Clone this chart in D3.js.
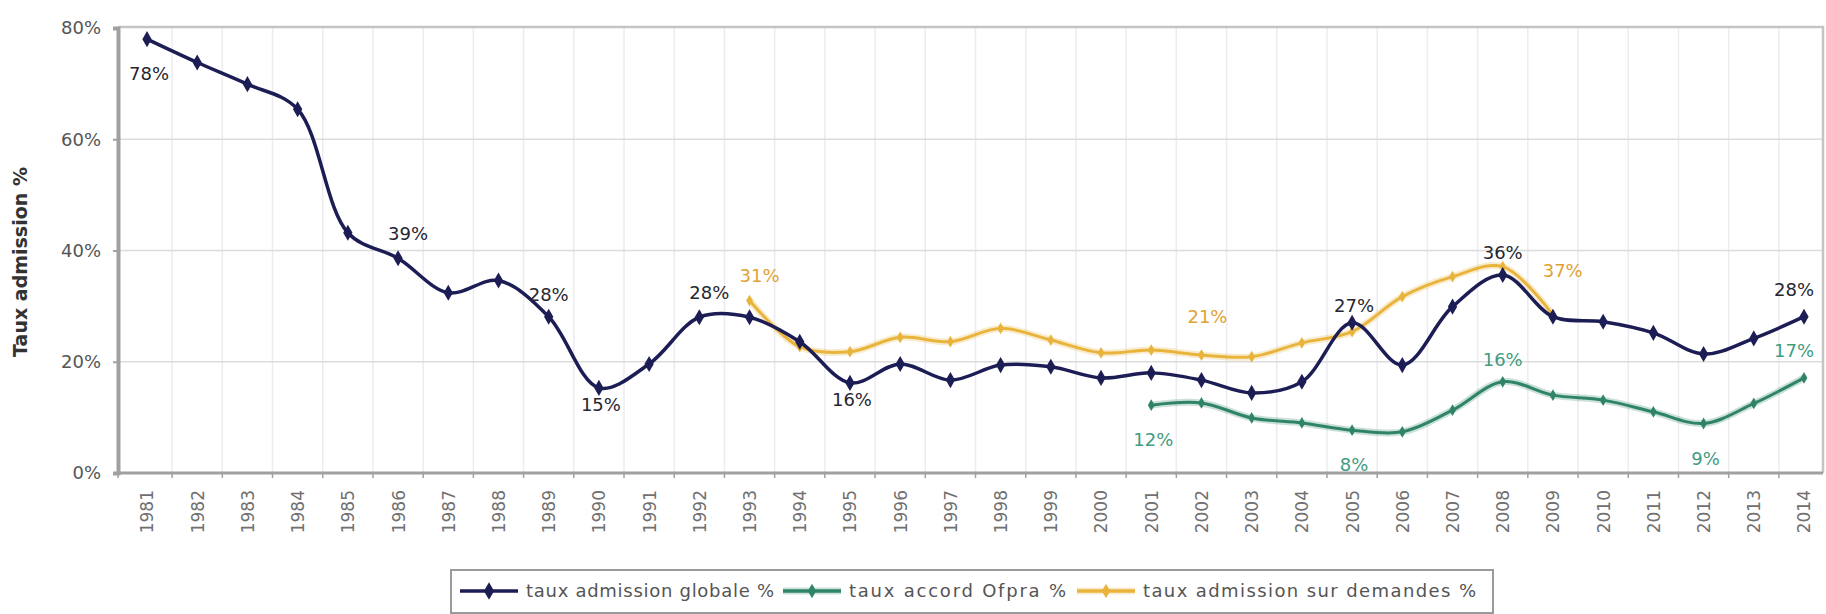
<!DOCTYPE html>
<html><head><meta charset="utf-8">
<script src="https://cdn.jsdelivr.net/npm/d3@7"></script>
<style>
body{margin:0;background:#fff}
svg{display:block}
text{font-family:"DejaVu Sans",Verdana,sans-serif}
</style>
</head><body>
<svg id="chart" width="1826" height="614"></svg>
<script>
// ---------- data ----------
const years = ["1981","1982","1983","1984","1985","1986","1987","1988","1989","1990",
  "1991","1992","1993","1994","1995","1996","1997","1998","1999","2000",
  "2001","2002","2003","2004","2005","2006","2007","2008","2009","2010",
  "2011","2012","2013","2014"];
const yTicks = [0, 20, 40, 60, 80];
const seriesNames = ["taux admission globale %", "taux accord Ofpra %", "taux admission sur demandes %"];
const globalRate = [78, 73.8, 69.9, 65.4, 43.2, 38.6, 32.4, 34.6, 28.1, 15.3,
  19.6, 28.0, 28.0, 23.6, 16.2, 19.6, 16.7, 19.4, 19.1, 17.1,
  18.0, 16.7, 14.4, 16.4, 27.0, 19.4, 29.9, 35.6, 28.1, 27.2,
  25.2, 21.4, 24.2, 28.1];
const ofpraRate = [null, null, null, null, null, null, null, null, null, null,
  null, null, null, null, null, null, null, null, null, null,
  12.2, 12.6, 9.9, 9.0, 7.7, 7.4, 11.3, 16.4, 14.0, 13.1,
  11.0, 8.9, 12.5, 17.1];
const demandRate = [null, null, null, null, null, null, null, null, null, null,
  null, null, 31.0, 22.7, 21.8, 24.4, 23.6, 26.0, 23.9, 21.6,
  22.1, 21.2, 20.9, 23.4, 25.4, 31.7, 35.3, 37.1, 28.4, null,
  null, null, null, null];
// data labels: [year, text, placement]
const globalLabels = [["1981","78%","belowFar"],["1986","39%","aboveRight"],["1989","28%","above"],
  ["1990","15%","below"],["1992","28%","aboveRight"],["1995","16%","below"],["2005","27%","aboveNear"],
  ["2008","36%","above"],["2014","28%","aboveLeft"]];
const ofpraLabels = [["2001","12%","belowFar"],["2005","8%","belowFar"],["2008","16%","above"],
  ["2012","9%","belowFar"],["2014","17%","aboveLeft"]];
const demandLabels = [["1993","31%","aboveRight"],["2002","21%","aboveFar"],["2008","37%","right"]];

// ---------- layout ----------
const svg = d3.select("#chart");
const L = 118, R = 1823, T = 27, B = 473;
const x = d3.scalePoint().domain(years).range([147, 1804]);
const step = x.step();
const y = d3.scaleLinear().domain([0, 80]).range([B, T + 1]);

const C = {navy: "#1d1d55", green: "#2f8467", yellow: "#e9b43c",
  navyLab: "#262630", greenLab: "#3f9c80", yellowLab: "#e0a234"};

// vertical grid lines at category boundaries
const bounds = years.slice(1).map(yr => x(yr) - step / 2);
svg.append("g").selectAll("line").data(bounds).join("line")
  .attr("x1", d => d).attr("x2", d => d).attr("y1", T).attr("y2", B)
  .attr("stroke", "#ececf0").attr("stroke-width", 1.5);
// horizontal grid
svg.append("g").selectAll("line").data(yTicks.slice(1, -1)).join("line")
  .attr("x1", L).attr("x2", R).attr("y1", d => y(d)).attr("y2", d => y(d))
  .attr("stroke", "#dcdcdc").attr("stroke-width", 1.5);

// frame top/right
svg.append("path").attr("d", `M${L},${T}H${R}V${B}`).attr("fill", "none")
  .attr("stroke", "#c4c4c4").attr("stroke-width", 2.5);

// y axis
const yAxis = d3.axisLeft(y).tickValues(yTicks).tickFormat(d => d + "%").tickSize(5).tickPadding(12);
const gy = svg.append("g").attr("transform", `translate(${L},0)`).call(yAxis);
gy.select(".domain").attr("stroke", "#a0a0a0").attr("stroke-width", 4);
gy.selectAll(".tick line").attr("stroke", "#a0a0a0").attr("stroke-width", 2);
gy.selectAll("text").attr("font-size", 18).attr("fill", "#555");

// x axis
const xAxis = d3.axisBottom(x).tickSize(0).tickPadding(0);
const gx = svg.append("g").attr("transform", `translate(0,${B})`).call(xAxis);
gx.select(".domain").remove();
gx.append("line").attr("x1", L).attr("x2", R).attr("stroke", "#a0a0a0").attr("stroke-width", 3);
gx.selectAll(".tick text").attr("font-size", 17).attr("fill", "#707070")
  .attr("text-anchor", "end").attr("dy", "0.35em")
  .attr("transform", "translate(0,17) rotate(-90)");
svg.append("g").selectAll("line").data(bounds.concat([L])).join("line")
  .attr("x1", d => d).attr("x2", d => d).attr("y1", B).attr("y2", B + 5)
  .attr("stroke", "#a0a0a0").attr("stroke-width", 1.5);

// y title
svg.append("text").attr("transform", `translate(27,${(T + B) / 2 + 12}) rotate(-90)`)
  .attr("text-anchor", "middle").attr("font-size", 19).attr("font-weight", "bold")
  .attr("fill", "#333").text("Taux admission %");

// ---------- series ----------
const line = d3.line().defined(d => d.v != null).x(d => x(d.yr)).y(d => y(d.v))
  .curve(d3.curveCatmullRom.alpha(0.5));
function series(values, color, width, symSize, glow) {
  const pts = years.map((yr, i) => ({yr, v: values[i]}));
  const g = svg.append("g");
  if (glow) g.append("path").datum(pts).attr("d", line).attr("fill", "none")
    .attr("stroke", color).attr("stroke-opacity", 0.25).attr("stroke-width", width + 4);
  g.append("path").datum(pts).attr("d", line).attr("fill", "none")
    .attr("stroke", color).attr("stroke-width", width).attr("stroke-linejoin", "round");
  g.selectAll("path.m").data(pts.filter(d => d.v != null)).join("path").attr("class", "m")
    .attr("d", d3.symbol(d3.symbolDiamond, symSize))
    .attr("transform", d => `translate(${x(d.yr)},${y(d.v)})`)
    .attr("fill", color);
  return pts;
}
series(ofpraRate, C.green, 3, 40, true);
series(demandRate, C.yellow, 3, 40, true);
series(globalRate, C.navy, 3.5, 75, false);

// ---------- data labels ----------
const place = {above: [0, -22], aboveNear: [2, -17], aboveFar: [6, -38], aboveRight: [10, -25],
  aboveLeft: [-10, -27], below: [2, 17], belowFar: [2, 35], right: [60, 4]};
function labels(list, values, color) {
  svg.append("g").selectAll("text").data(list).join("text")
    .attr("x", d => x(d[0]) + place[d[2]][0])
    .attr("y", d => y(values[years.indexOf(d[0])]) + place[d[2]][1])
    .attr("dy", "0.35em").attr("text-anchor", "middle")
    .attr("font-size", 18).attr("fill", color).text(d => d[1]);
}
labels(globalLabels, globalRate, C.navyLab);
labels(ofpraLabels, ofpraRate, C.greenLab);
labels(demandLabels, demandRate, C.yellowLab);

// ---------- legend ----------
const lg = svg.append("g");
lg.append("rect").attr("x", 451).attr("y", 570).attr("width", 1042).attr("height", 43)
  .attr("fill", "#fff").attr("stroke", "#9a9a9a").attr("stroke-width", 2);
const cols = [C.navy, C.green, C.yellow];
const itemX = [460, 783, 1077];
const textW = [248, 217, 333];
seriesNames.forEach((name, i) => {
  const cx = itemX[i], cy = 591;
  if (i > 0) lg.append("line").attr("x1", cx).attr("x2", cx + 58).attr("y1", cy).attr("y2", cy)
    .attr("stroke", cols[i]).attr("stroke-opacity", 0.25).attr("stroke-width", 7);
  lg.append("line").attr("x1", cx).attr("x2", cx + 58).attr("y1", cy).attr("y2", cy)
    .attr("stroke", cols[i]).attr("stroke-width", 3.5);
  lg.append("path").attr("d", d3.symbol(d3.symbolDiamond, i ? 60 : 90))
    .attr("transform", `translate(${cx + 29},${cy})`).attr("fill", cols[i]);
  lg.append("text").attr("x", cx + 66).attr("y", cy).attr("dy", "0.35em")
    .attr("font-size", 18).attr("fill", "#555")
    .attr("textLength", textW[i]).attr("lengthAdjust", "spacing").text(name);
});
</script>
</body></html>
